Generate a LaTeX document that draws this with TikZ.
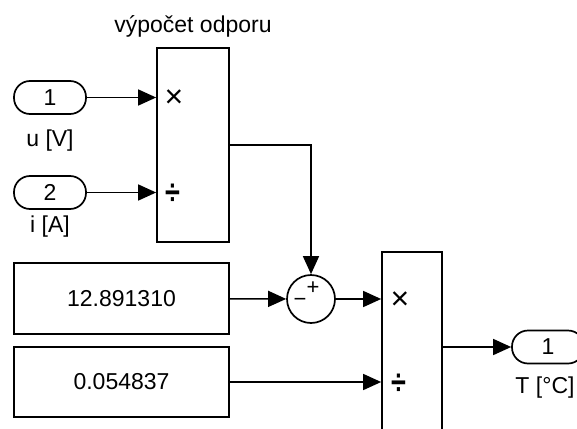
\documentclass[tikz,border=0pt]{standalone}
\usepackage{fontspec}
\setmainfont{Liberation Sans}
\usetikzlibrary{arrows.meta}

\begin{document}
\begin{tikzpicture}[x=1pt, y=-1pt, line width=1.5pt,
    every node/.style={font=\fontsize{23}{27}\selectfont, inner sep=0pt},
    port/.style={draw, line width=1.7pt, rounded corners=16pt, minimum width=72pt, minimum height=33pt},
    blok/.style={draw, line width=1.7pt},
    znak/.style={font=\fontsize{22}{24}\selectfont},
    krat/.style={font=\fontsize{32}{34}\selectfont},
    deleni/.style={font=\fontsize{27}{30}\bfseries, yscale=1.3},
    sig/.style={-{Triangle[length=18pt,width=16pt]}}]

     \useasboundingbox (0,0) rectangle (577,428);

     % Vstupy u a i
     \node[port] (in1) at (50,97.5) {1};
     \node[anchor=base] (lu) at (50,146) {u [V]};
     \node[port] (in2) at (50,192.5) {2};
     \node[anchor=base] (li) at (50,232) {i [A]};

     % Blok výpočtu odporu
     \node[blok, minimum width=72pt, minimum height=194pt] (prod1) at (193,145) {};
     \node[anchor=base] (titul) at (193,33) {výpočet odporu};
     \node[krat] (krat1) at (174,99) {×};
     \node[deleni] (del1) at (173,194) {÷};

     % Konstanty
     \node[blok, minimum width=215pt, minimum height=71pt] (c1) at (121.5,298.5) {12.891310};
     \node[blok, minimum width=215pt, minimum height=70pt] (c2) at (121.5,382) {0.054837};

     % Součet
     \node[draw, circle, line width=1.7pt, minimum size=48pt] (sum) at (311,299) {};
     \node[znak] (plus) at (313,288) {+};
     \node[znak] (minus) at (300,302) {−};

     % Druhý blok a výstup
     \node[blok, minimum width=60pt, minimum height=190pt] (prod2) at (412,347) {};
     \node[krat] (krat2) at (400,301) {×};
     \node[deleni] (del2) at (399,384) {÷};
     \node[port] (out1) at (548,347) {1};
     \node[anchor=base] (lt) at (545,393) {T [°C]};

     % Spoje
     \draw[sig] (in1) -- (in1 -| prod1.west);
     \draw[sig] (in2) -- (in2 -| prod1.west);
     \draw[sig] (prod1.east) -| (sum.north);
     \draw[sig] (c1) -- (sum);
     \draw[sig] (sum) -- (sum -| prod2.west);
     \draw[sig] (c2) -- (c2 -| prod2.west);
     \draw[sig] (prod2) -- (out1);

\end{tikzpicture}
\end{document}
